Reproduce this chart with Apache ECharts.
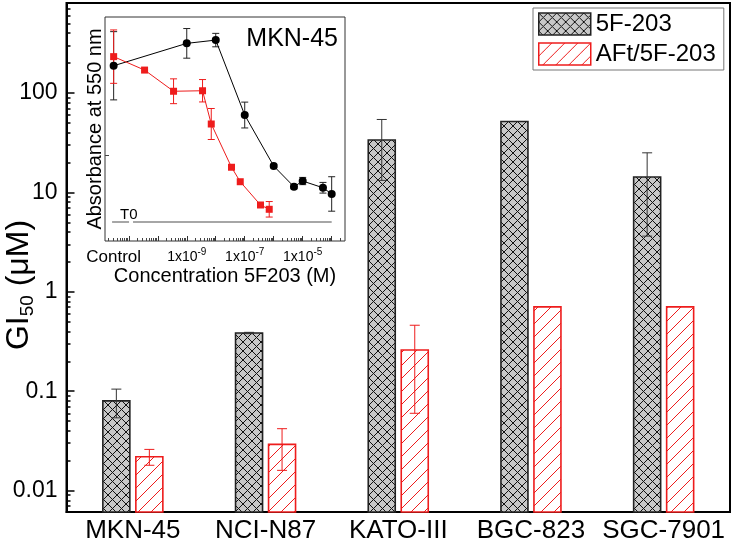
<!DOCTYPE html>
<html><head><meta charset="utf-8">
<script src="https://cdn.jsdelivr.net/npm/echarts@6/dist/echarts.min.js"></script>
<style>html,body{margin:0;padding:0;background:#fff}#c{width:735px;height:544px}</style>
</head><body><div id="c"></div>
<script>
// ---------- main chart data ----------
const categories = ['MKN-45', 'NCI-N87', 'KATO-III', 'BGC-823', 'SGC-7901'];
const gi5F      = [0.080, 0.385, 33.6, 51.7, 14.3];
const gi5FLow   = [0.054, 0.379, 13.2, null, 3.63];
const gi5FHigh  = [0.105, 0.391, 54.1, null, 25.0];
const giAFt     = [0.0219, 0.0292, 0.260, 0.705, 0.705];
const giAFtLow  = [0.018, 0.016, 0.060, null, null];
const giAFtHigh = [0.026, 0.042, 0.461, null, null];
const yTickValues = [0.01, 0.1, 1, 10, 100];

// ---------- inset data ----------
const controlConc = 3.0e-12;   // plotting position used for "Control"
const conc5F  = [controlConc, 1e-9, 1e-8, 1e-7, 1e-6, 5e-6, 1e-5, 5e-5, 1e-4];
const abs5F   = [1.017, 1.147, 1.166, 0.731, 0.435, 0.315, 0.348, 0.309, 0.273];
const err5F   = [0.198, 0.086, 0.039, 0.075, 0.010, 0.012, 0.021, 0.031, 0.100];
const concAFt = [controlConc, 3.5e-11, 3.5e-10, 3.5e-9, 7e-9, 3.5e-8, 7e-8, 3.5e-7, 7e-7];
const absAFt  = [1.070, 0.992, 0.869, 0.872, 0.679, 0.428, 0.344, 0.209, 0.184];
const errAFt  = [0.155, 0, 0.072, 0.065, 0.090, 0, 0, 0.010, 0.045];
const t0Value = 0.109;
const t0Segments = [[2.65e-12, 1.02e-11], [1.4e-11, 1e-4]];
const insetXLabels = [controlConc, 1e-9, 1e-7, 1e-5];

// ---------- styles ----------
const FONT = 'Liberation Sans, Arial, Helvetica, sans-serif';
const RED = '#ee1c1c';
const yMin = 0.0061, yMax = 803;
const barWidth = 27, barShift = 16.5;
const insetXMin = 1.51e-12, insetXMax = 2.88e-4;

function makeCross() {
  const s = 9, cv = document.createElement('canvas');
  cv.width = s; cv.height = s;
  const g = cv.getContext('2d');
  g.fillStyle = '#c8c8c8'; g.fillRect(0, 0, s, s);
  g.strokeStyle = '#111'; g.lineWidth = 1;
  g.beginPath();
  for (let k = -1; k <= 1; k++) {
    g.moveTo(k * s, 0); g.lineTo(k * s + s, s);
    g.moveTo(k * s + s, 0); g.lineTo(k * s, s);
  }
  g.stroke();
  return { image: cv, repeat: 'repeat' };
}
function makeHatch() {
  const s = 13, cv = document.createElement('canvas');
  cv.width = s; cv.height = s;
  const g = cv.getContext('2d');
  g.fillStyle = '#ffffff'; g.fillRect(0, 0, s, s);
  g.strokeStyle = RED; g.lineWidth = 1;
  g.beginPath();
  for (let k = -1; k <= 1; k++) { g.moveTo(k * s, s); g.lineTo(k * s + s, 0); }
  g.stroke();
  return { image: cv, repeat: 'repeat' };
}
const crossFill = makeCross();
const hatchFill = makeHatch();

function minorTicks(dFrom, dTo, lo, hi) {
  const out = [];
  for (let d = dFrom; d <= dTo; d++) {
    for (let m = 2; m <= 9; m++) {
      const v = parseFloat((m * Math.pow(10, d)).toPrecision(3));
      if (v >= lo && v <= hi) out.push(v);
    }
  }
  return out;
}
function majorTicks(dFrom, dTo, lo, hi) {
  const out = [];
  for (let d = dFrom; d <= dTo; d++) {
    const v = parseFloat(Math.pow(10, d).toPrecision(3));
    if (v >= lo && v <= hi) out.push(v);
  }
  return out;
}

function barRender(offset, fill, stroke) {
  return function (params, api) {
    const cat = api.value(0), v = api.value(1);
    const top = api.coord([cat, v]);
    const base = api.coord([cat, yMin]);
    return {
      type: 'rect',
      shape: { x: top[0] + offset - barWidth / 2, y: top[1], width: barWidth, height: base[1] - top[1] },
      style: { fill: fill, stroke: stroke, lineWidth: 1.6 }
    };
  };
}
function errRender(offset, color, cap) {
  return function (params, api) {
    const x0 = api.value(0), lo = api.value(1), hi = api.value(2);
    const pHi = api.coord([x0, hi]), pLo = api.coord([x0, lo]);
    const x = pHi[0] + offset;
    const st = { stroke: color, lineWidth: 1 };
    return {
      type: 'group',
      children: [
        { type: 'line', shape: { x1: x, y1: pHi[1], x2: x, y2: pLo[1] }, style: st },
        { type: 'line', shape: { x1: x - cap, y1: pHi[1], x2: x + cap, y2: pHi[1] }, style: st },
        { type: 'line', shape: { x1: x - cap, y1: pLo[1], x2: x + cap, y2: pLo[1] }, style: st }
      ]
    };
  };
}

const err5FData = [], errAFtData = [];
categories.forEach((c, i) => {
  if (gi5FLow[i] != null) err5FData.push([i, gi5FLow[i], gi5FHigh[i]]);
  if (giAFtLow[i] != null) errAFtData.push([i, giAFtLow[i], giAFtHigh[i]]);
});
const insetErr5F = [], insetErrAFt = [];
conc5F.forEach((c, i) => { if (err5F[i] > 0) insetErr5F.push([c, abs5F[i] - err5F[i], abs5F[i] + err5F[i]]); });
concAFt.forEach((c, i) => { if (errAFt[i] > 0) insetErrAFt.push([c, absAFt[i] - errAFt[i], absAFt[i] + errAFt[i]]); });

const chart = echarts.init(document.getElementById('c'), null, { renderer: 'canvas' });
const option = {
  animation: false,
  textStyle: { fontFamily: FONT, color: '#000' },
  grid: [
    { left: 66.5, right: 5, top: 3, bottom: 32, show: true, borderColor: '#000', borderWidth: 2, containLabel: false },
    { left: 105, top: 17, width: 240, height: 224, show: true, borderColor: '#333', borderWidth: 1, backgroundColor: '#fff', containLabel: false }
  ],
  legend: {
    left: 533, top: 8, orient: 'vertical', icon: 'rect',
    itemWidth: 52, itemHeight: 22, itemGap: 6,
    padding: [4, 8, 4, 5],
    borderColor: '#777', borderWidth: 1, backgroundColor: '#fff',
    textStyle: { fontSize: 24, color: '#000', fontFamily: FONT, lineHeight: 22 },
    data: [
      { name: '5F-203', itemStyle: { color: crossFill, borderColor: '#222', borderWidth: 1.5 } },
      { name: 'AFt/5F-203', itemStyle: { color: hatchFill, borderColor: RED, borderWidth: 1.5 } }
    ]
  },
  xAxis: [
    {
      type: 'category', gridIndex: 0, data: categories, position: 'bottom',
      axisLine: { lineStyle: { color: '#000', width: 2 } },
      axisTick: { show: false },
      axisLabel: { interval: 0, fontSize: 26, color: '#000', margin: 6, fontFamily: FONT },
      splitLine: { show: false }
    },
    {
      type: 'log', gridIndex: 1, min: insetXMin, max: insetXMax, position: 'bottom',
      axisLine: { show: false },
      axisTick: { show: true, inside: true, length: 3, lineStyle: { color: '#444', width: 1 },
                  customValues: minorTicks(-12, -4, insetXMin, insetXMax) },
      axisLabel: {
        customValues: insetXLabels, margin: 6, color: '#000', fontFamily: FONT,
        formatter: function (v) {
          if (v < 1e-11) return '{c|Control}';
          return '{a|1x10}{s|' + Math.round(Math.log10(v)) + '}';
        },
        rich: {
          c: { fontSize: 17, lineHeight: 20, fontFamily: FONT, color: '#000' },
          a: { fontSize: 14, lineHeight: 20, fontFamily: FONT, color: '#000' },
          s: { fontSize: 10, lineHeight: 10, verticalAlign: 'top', fontFamily: FONT, color: '#000' }
        }
      },
      splitLine: { show: false },
      name: 'Concentration 5F203 (M)', nameLocation: 'middle', nameGap: 21,
      nameTextStyle: { fontSize: 20, color: '#000', fontFamily: FONT }
    },
    {
      type: 'log', gridIndex: 1, min: insetXMin, max: insetXMax, position: 'bottom',
      axisLine: { show: false },
      axisTick: { show: true, inside: true, length: 5, lineStyle: { color: '#333', width: 1 },
                  customValues: majorTicks(-12, -4, insetXMin, insetXMax) },
      axisLabel: { show: false },
      splitLine: { show: false }
    }
  ],
  yAxis: [
    {
      type: 'log', gridIndex: 0, min: yMin, max: yMax, position: 'left',
      axisLine: { show: true, lineStyle: { color: '#000', width: 2 } },
      axisTick: { show: true, inside: true, length: 8, lineStyle: { color: '#000', width: 1.5 }, customValues: yTickValues },
      axisLabel: {
        customValues: yTickValues, fontSize: 23, color: '#000', margin: 9, fontFamily: FONT,
        formatter: function (v) { return String(parseFloat(Number(v).toPrecision(3))); }
      },
      splitLine: { show: false }
    },
    {
      type: 'log', gridIndex: 0, min: yMin, max: yMax, position: 'left',
      axisLine: { show: false },
      axisTick: { show: true, inside: true, length: 4, lineStyle: { color: '#000', width: 1.5 },
                  customValues: minorTicks(-3, 2, yMin, yMax) },
      axisLabel: { show: false },
      splitLine: { show: false }
    },
    {
      type: 'value', gridIndex: 1, min: 0, max: 1.3, position: 'left',
      axisLine: { show: false },
      axisTick: { show: true, inside: true, length: 4, lineStyle: { color: '#444' }, customValues: [0.5] },
      axisLabel: { show: false },
      splitLine: { show: false },
      name: 'Absorbance at 550 nm', nameLocation: 'middle', nameGap: 0,
      nameTextStyle: { fontSize: 20, color: '#000', fontFamily: FONT }
    }
  ],
  series: [
    {
      name: '5F-203', type: 'custom', xAxisIndex: 0, yAxisIndex: 0, z: 2,
      itemStyle: { color: crossFill, borderColor: '#222', borderWidth: 1.5 },
      renderItem: barRender(-barShift, crossFill, '#222'),
      encode: { x: 0, y: 1 },
      data: categories.map((c, i) => [i, gi5F[i]])
    },
    {
      name: 'AFt/5F-203', type: 'custom', xAxisIndex: 0, yAxisIndex: 0, z: 2,
      itemStyle: { color: hatchFill, borderColor: RED, borderWidth: 1.5 },
      renderItem: barRender(barShift, hatchFill, RED),
      encode: { x: 0, y: 1 },
      data: categories.map((c, i) => [i, giAFt[i]])
    },
    {
      name: 'err5F', type: 'custom', xAxisIndex: 0, yAxisIndex: 0, z: 4,
      renderItem: errRender(-barShift, '#333', 5),
      encode: { x: 0, y: [1, 2] },
      data: err5FData
    },
    {
      name: 'errAFt', type: 'custom', xAxisIndex: 0, yAxisIndex: 0, z: 4,
      renderItem: errRender(barShift, RED, 5),
      encode: { x: 0, y: [1, 2] },
      data: errAFtData
    },
    // ---- inset ----
    {
      name: 'inset5F', type: 'line', xAxisIndex: 1, yAxisIndex: 2, z: 5,
      symbol: 'circle', symbolSize: 8,
      lineStyle: { color: '#000', width: 1 }, itemStyle: { color: '#000' },
      data: conc5F.map((c, i) => [c, abs5F[i]]),
      markLine: {
        silent: true, symbol: 'none', label: { show: false },
        lineStyle: { color: '#888', width: 1.5, type: 'solid' },
        data: t0Segments.map(s => [{ coord: [s[0], t0Value] }, { coord: [s[1], t0Value] }])
      }
    },
    {
      name: 'insetAFt', type: 'line', xAxisIndex: 1, yAxisIndex: 2, z: 5,
      symbol: 'rect', symbolSize: 7,
      lineStyle: { color: RED, width: 1 }, itemStyle: { color: RED },
      data: concAFt.map((c, i) => [c, absAFt[i]])
    },
    {
      name: 'insetErr5F', type: 'custom', xAxisIndex: 1, yAxisIndex: 2, z: 4,
      renderItem: errRender(0, '#222', 3.5),
      encode: { x: 0, y: [1, 2] },
      data: insetErr5F
    },
    {
      name: 'insetErrAFt', type: 'custom', xAxisIndex: 1, yAxisIndex: 2, z: 4,
      renderItem: errRender(0, RED, 3.5),
      encode: { x: 0, y: [1, 2] },
      data: insetErrAFt
    }
  ],
  graphic: [
    {
      type: 'text', x: 19, y: 285, rotation: Math.PI / 2, z: 10,
      style: {
        text: '{g|GI}{s|50}{g| (μM)}', align: 'center', verticalAlign: 'middle', fill: '#000',
        rich: {
          g: { fontSize: 32, lineHeight: 36, fontFamily: FONT, fill: '#000' },
          s: { fontSize: 19, lineHeight: 19, verticalAlign: 'bottom', fontFamily: FONT, fill: '#000' }
        }
      }
    },
    {
      type: 'text', x: 338, y: 39.5, z: 10,
      style: { text: 'MKN-45', align: 'right', verticalAlign: 'middle', fill: '#000', font: '25px ' + FONT }
    },
    {
      type: 'text', x: 120, y: 214.5, z: 10,
      style: { text: 'T0', align: 'left', verticalAlign: 'middle', fill: '#000', font: '15px ' + FONT }
    }
  ]
};
chart.setOption(option);
</script>
</body></html>
